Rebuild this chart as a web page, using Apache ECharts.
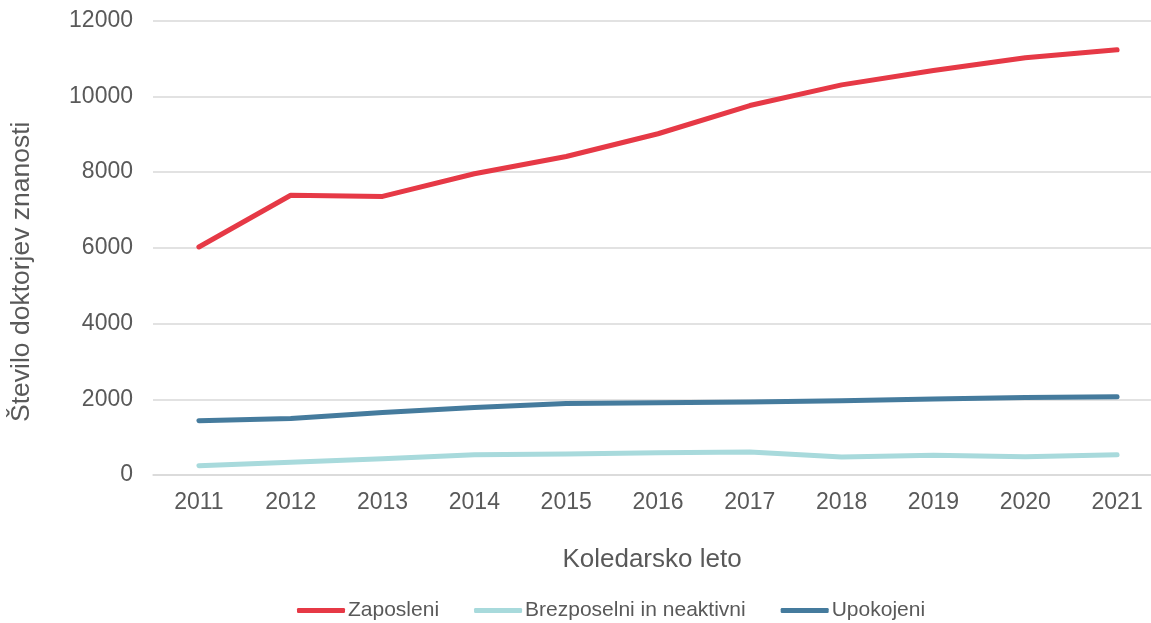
<!DOCTYPE html>
<html>
<head>
<meta charset="utf-8">
<script src="https://cdn.jsdelivr.net/npm/echarts@6/dist/echarts.min.js"></script>
<style>
html,body{margin:0;padding:0;background:#fff;}
#chart{width:1151px;height:623px;}
</style>
</head>
<body>
<div id="chart"></div>
<script>
const years = ['2011','2012','2013','2014','2015','2016','2017','2018','2019','2020','2021'];
const zaposleni = [6020, 7385, 7355, 7955, 8410, 9010, 9755, 10300, 10680, 11015, 11225];
const brezposelni = [246, 334, 431, 536, 554, 589, 607, 475, 519, 483, 536];
const upokojeni = [1433, 1494, 1652, 1784, 1890, 1910, 1925, 1960, 2004, 2048, 2066];
const yTicks = [0, 2000, 4000, 6000, 8000, 10000, 12000];

const textColor = '#595959';
const fontFamily = '"Liberation Sans", Arial, sans-serif';

const chart = echarts.init(document.getElementById('chart'), null, {renderer: 'canvas'});
function mk(name, data, color) {
  return {
    name: name, type: 'line', data: data, showSymbol: false, symbol: 'none',
    lineStyle: {color: color, width: 5, cap: 'round', join: 'round'},
    itemStyle: {color: color},
    emphasis: {disabled: true}, animation: false
  };
}
chart.setOption({
  animation: false,
  textStyle: {fontFamily: fontFamily},
  grid: {left: 153, top: 20.5, right: -12, bottom: 148, containLabel: false, outerBoundsMode: 'none'},
  xAxis: {
    type: 'category', data: years, boundaryGap: true,
    axisLine: {show: true, lineStyle: {color: '#d9d9d9', width: 1.5}},
    axisTick: {show: false},
    axisLabel: {color: textColor, fontSize: 23, margin: 16, fontFamily: fontFamily},
    name: 'Koledarsko leto', nameLocation: 'middle', nameGap: 72,
    nameTextStyle: {color: textColor, fontSize: 26, fontFamily: fontFamily, padding: [0, 12, 0, 0]}
  },
  yAxis: {
    type: 'value', min: yTicks[0], max: yTicks[yTicks.length - 1], interval: 2000,
    axisLine: {show: false}, axisTick: {show: false},
    splitLine: {lineStyle: {color: '#d9d9d9', width: 1.5}},
    axisLabel: {color: textColor, fontSize: 23, margin: 20, fontFamily: fontFamily,
      formatter: function (v) { return String(v); }},
    name: 'Število doktorjev znanosti', nameLocation: 'middle', nameGap: 118, nameRotate: 90,
    nameTextStyle: {color: textColor, fontSize: 26.5, fontFamily: fontFamily, padding: [0, 48, 0, 0]}
  },
  legend: {
    left: 292, top: 595, itemWidth: 48, itemHeight: 5, itemGap: 35,
    icon: 'roundRect',
    textStyle: {color: textColor, fontSize: 21, fontFamily: fontFamily, padding: [0,0,0,-2]},
    data: ['Zaposleni', 'Brezposelni in neaktivni', 'Upokojeni']
  },
  series: [
    mk('Zaposleni', zaposleni, '#E63946'),
    mk('Brezposelni in neaktivni', brezposelni, '#A8DADC'),
    mk('Upokojeni', upokojeni, '#457B9D')
  ]
});
</script>
</body>
</html>
